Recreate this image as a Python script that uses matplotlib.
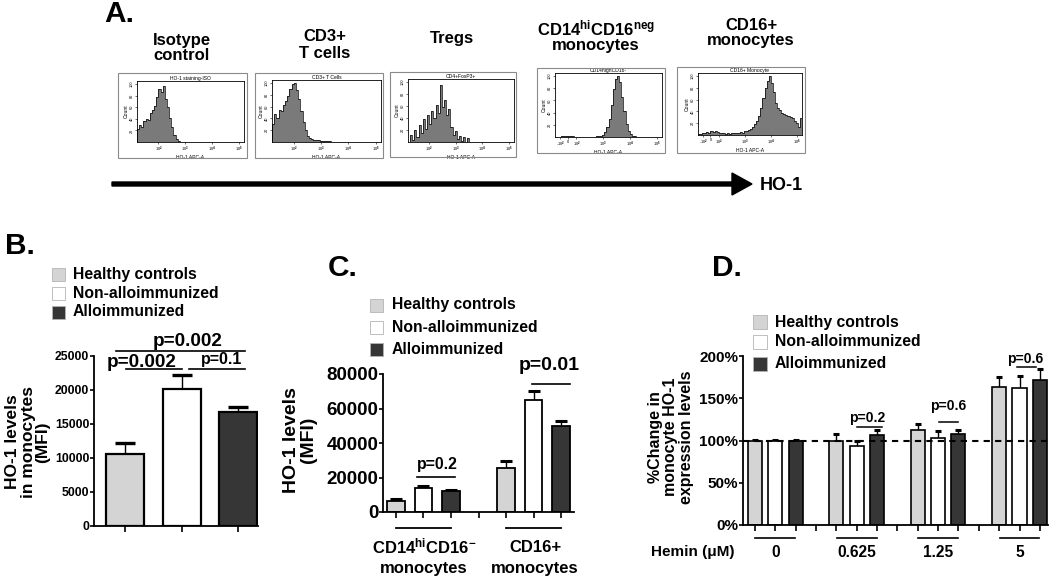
import numpy as np
import matplotlib.pyplot as plt
from matplotlib.patches import Rectangle, FancyArrow

plt.rcParams['font.family'] = ['Liberation Sans', 'DejaVu Sans']
plt.rcParams['font.weight'] = 'bold'
plt.rcParams['axes.labelweight'] = 'bold'
plt.rcParams['mathtext.fontset'] = 'custom'
plt.rcParams['mathtext.rm'] = 'Liberation Sans:bold'
plt.rcParams['mathtext.it'] = 'Liberation Sans:bold'
plt.rcParams['mathtext.bf'] = 'Liberation Sans:bold'

W, H = 1050, 581

# --- data ---
groups = ['Healthy controls', 'Non-alloimmunized', 'Alloimmunized']
colors = ['#d4d4d4', '#ffffff', '#363636']

# panel A: flow histograms (relative counts)
iso = [0.22, 0.30, 0.26, 0.36, 0.40, 0.38, 0.50, 0.55, 0.62, 0.78, 0.92, 0.86, 0.96, 0.74,
       0.60, 0.42, 0.26, 0.12, 0.05, 0.02] + [0] * 30
cd3 = [0.30, 0.48, 0.40, 0.55, 0.52, 0.62, 0.70, 0.78, 0.90, 0.98, 1.00, 0.88, 0.72, 0.52,
       0.34, 0.20, 0.11, 0.07, 0.05, 0.04, 0.03, 0.03, 0.02, 0.02, 0.015, 0.01, 0.01, 0.005] + [0] * 22
treg = [0.0, 0.12, 0.04, 0.20, 0.08, 0.28, 0.15, 0.38, 0.22, 0.45, 0.30, 0.52, 0.40, 0.62,
        0.48, 0.95, 0.58, 0.70, 0.45, 0.55, 0.25, 0.12, 0.18, 0.05, 0.10, 0.02, 0.08, 0.0,
        0.06, 0.0] + [0] * 20
cd14 = [0, 0, 0, 0.01, 0.02, 0.02, 0.015, 0.02, 0.01, 0.005, 0.005, 0.005, 0.005, 0.005,
        0.005, 0.005, 0.005, 0.005, 0.005, 0.01, 0.01, 0.02, 0.04, 0.08, 0.16, 0.30, 0.52,
        0.78, 0.95, 1.00, 0.90, 0.66, 0.42, 0.22, 0.10, 0.05, 0.02, 0.01, 0.005, 0.005] + [0] * 10
cd16 = [0.01, 0.02, 0.03, 0.04, 0.05, 0.04, 0.06, 0.05, 0.06, 0.05,
        0.04, 0.03, 0.03, 0.02, 0.03, 0.02, 0.03, 0.03, 0.04, 0.03,
        0.05, 0.04, 0.06, 0.07, 0.09, 0.11, 0.14, 0.18, 0.24, 0.32,
        0.45, 0.62, 0.80, 0.92, 1.00, 0.88, 0.72, 0.55, 0.45, 0.42,
        0.38, 0.36, 0.34, 0.32, 0.30, 0.28, 0.24, 0.20, 0.14, 0.28]
hist_counts = [iso, cd3, treg, cd14, cd16]
hist_titles = ['Isotype\ncontrol', 'CD3+\nT cells', 'Tregs',
               'CD14$^{hi}$CD16$^{neg}$\nmonocytes', 'CD16+\nmonocytes']
hist_tags = ['HO-1 staining-ISO', 'CD3+ T Cells', 'CD4+FoxP3+', 'CD14highCD16-', 'CD16+ Monocyte']

# panel B: MFI in monocytes
b_mean = [10600, 20100, 16700]
b_err = [1600, 2100, 800]

# panel C: MFI per monocyte subset
c_cells = ['CD14$^{hi}$CD16$^{-}$', 'CD16+']
c_mean = [[6400, 13900, 12200], [25500, 65000, 49900]]
c_err = [[1100, 1100, 600], [4000, 5000, 2900]]

# panel D: % change with hemin
hemin = ['0', '0.625', '1.25', '5']
d_mean = [[100, 100, 100], [99, 93, 107], [112, 103, 108], [163, 162, 172]]
d_err = [[0.5, 0.5, 0.5], [8.5, 7, 5], [8, 8, 4], [12, 14, 13]]

fig = plt.figure(figsize=(W / 100, H / 100), dpi=100)


def px_axes(x0, y0, x1, y1):
    return fig.add_axes([x0 / W, 1 - y1 / H, (x1 - x0) / W, (y1 - y0) / H])


def up_err(ax, x, mean, err, cap, thick):
    x = np.asarray(x)
    top = np.asarray(mean) + np.asarray(err)
    ax.vlines(x, mean, top, color='black', lw=1.0, zorder=1)
    ax.plot(x, top, ls='none', marker='_', ms=cap, mew=thick, color='black', zorder=1)


def style_axes(ax, lab_size):
    for s in ['top', 'right']:
        ax.spines[s].set_visible(False)
    for s in ['left', 'bottom']:
        ax.spines[s].set_linewidth(1.3)
    ax.tick_params(axis='y', length=3, width=1.2, pad=0.5, labelsize=lab_size)
    ax.tick_params(axis='x', length=4, width=1.2, labelbottom=False)


# --- panel A ---
frames = [(118, 73, 247, 158), (255, 73, 383, 158), (390, 72, 516, 157),
          (537, 68, 665, 153), (677, 67, 805, 153)]
inner = [(137, 81, 244, 142), (272, 80, 381, 142), (408, 79, 514, 142),
         (555, 73, 662, 137), (698, 73, 802, 135)]
for k, counts in enumerate(hist_counts):
    ax = px_axes(*inner[k])
    edges = np.linspace(0, 1, len(counts) + 1)
    ax.stairs(counts, edges, fill=True, color='#7a7a7a')
    ax.stairs(counts, edges, color='black', lw=0.5)
    ax.set_xlim(0, 1)
    ax.set_ylim(0, 1.05)
    for s in ax.spines.values():
        s.set_linewidth(0.6)
    if k < 3:
        ax.set_xticks([0.2, 0.45, 0.7, 0.95])
        ax.set_xticklabels(['10$^2$', '10$^3$', '10$^4$', '10$^5$'])
    else:
        ax.set_xticks([0.05, 0.12, 0.2, 0.45, 0.7, 0.95])
        ax.set_xticklabels(['-10$^2$', '0', '10$^2$', '10$^3$', '10$^4$', '10$^5$'])
    ax.set_yticks([0.2, 0.4, 0.6, 0.8, 1.0])
    ax.set_yticklabels(['20', '40', '60', '80', '100'], rotation=90, va='center')
    ax.tick_params(labelsize=2.8, length=1.5, width=0.4, pad=0.8)
    for t in ax.get_xticklabels() + ax.get_yticklabels():
        t.set_fontweight('normal')
    ax.set_xlabel('HO-1 APC-A', fontsize=3.6, fontweight='normal', labelpad=0.5)
    ax.set_ylabel('Count', fontsize=3.6, fontweight='normal', labelpad=0.5)
    ax.set_title(hist_tags[k], fontsize=3.6, fontweight='normal', pad=0.5)

# --- panel B ---
axB = px_axes(94, 356, 258, 526)
xb = np.arange(3)
axB.bar(xb, b_mean, width=0.67, color=colors, edgecolor='black', linewidth=1.6, zorder=2)
up_err(axB, xb, b_mean, b_err, 15, 2.4)
axB.set_xlim(-0.55, 2.35)
axB.set_ylim(0, 25000)
axB.set_yticks(range(0, 25001, 5000))
axB.set_xticks(xb)
style_axes(axB, 8.8)
axB.plot([-0.16, 2.12], [25735, 25735], color='black', lw=1.2, clip_on=False)
axB.text(1.1, 25950, 'p=0.002', fontsize=13.6, ha='center', va='bottom')
axB.plot([0.02, 1.0], [23090, 23090], color='black', lw=1.2, clip_on=False)
axB.plot([1.13, 2.12], [23090, 23090], color='black', lw=1.2, clip_on=False)
axB.text(0.3, 24100, 'p=0.002', fontsize=13.6, ha='center', va='center')
axB.text(1.7, 24450, 'p=0.1', fontsize=11.5, ha='center', va='center')

# --- panel C ---
axC = px_axes(383, 374, 574, 512)
for g in range(2):
    xc = np.arange(3) + 4 * g
    axC.bar(xc, c_mean[g], width=0.65, color=colors, edgecolor='black', linewidth=1.3, zorder=2)
    up_err(axC, xc, c_mean[g], c_err[g], 8, 2.2)
axC.set_xlim(-0.47, 6.47)
axC.set_ylim(0, 80000)
axC.set_yticks(range(0, 80001, 20000))
axC.set_xticks(range(7))
style_axes(axC, 13.5)
for g in range(2):
    cx = 1 + 4 * g
    axC.plot([cx - 1.0, cx + 1.0], [-9300, -9300], color='black', lw=1.3, clip_on=False)
axC.plot([0.76, 2.15], [20300, 20300], color='black', lw=1.2, clip_on=False)
axC.text(1.49, 27300, 'p=0.2', fontsize=11.4, ha='center', va='center')
axC.plot([4.95, 6.33], [74200, 74200], color='black', lw=1.2, clip_on=False)
axC.text(5.58, 85200, 'p=0.01', fontsize=14, ha='center', va='center')

# --- panel D ---
axD = px_axes(743, 356, 1048, 525)
for g in range(4):
    xd = np.arange(3) + 4 * g
    axD.bar(xd, d_mean[g], width=0.69, color=colors, edgecolor='black', linewidth=1.2, zorder=2)
    up_err(axD, xd, d_mean[g], d_err[g], 5, 2.2)
    cx = 1 + 4 * g
    axD.plot([cx - 0.98, cx + 0.98], [-15.4, -15.4], color='black', lw=1.2, clip_on=False)
    axD.text(cx, -33, hemin[g], fontsize=11.2, ha='center', va='center')
axD.axhline(100, color='black', lw=1.5, ls=(0, (3, 2.5)), zorder=3)
axD.set_xlim(-0.59, 14.4)
axD.set_ylim(0, 200)
axD.set_yticks(range(0, 201, 50))
axD.set_yticklabels(['%d%%' % v for v in range(0, 201, 50)])
axD.set_xticks(range(15))
style_axes(axD, 11)
axD.plot([5.0, 6.24], [116, 116], color='black', lw=1.1)
axD.text(5.5, 126.6, 'p=0.2', fontsize=10, ha='center', va='center')
axD.plot([9.04, 9.97], [121.9, 121.9], color='black', lw=1.1)
axD.text(9.48, 140.8, 'p=0.6', fontsize=10, ha='center', va='center')
axD.plot([12.87, 13.8], [187, 187], color='black', lw=1.1, clip_on=False)
axD.text(13.26, 196.4, 'p=0.6', fontsize=10, ha='center', va='center', clip_on=False)

# --- overlay in pixel coordinates ---
ov = fig.add_axes([0, 0, 1, 1])
ov.set_xlim(0, W)
ov.set_ylim(H, 0)
ov.axis('off')

for k in range(5):
    x0, y0, x1, y1 = frames[k]
    ov.add_patch(Rectangle((x0, y0), x1 - x0, y1 - y0, fill=False, edgecolor='#8a8a8a', lw=0.8))
title_pos = [(182, 48, 1.0), (325, 45, 1.15), (452, 39, 1.0), (596, 36, 1.0), (751, 33, 1.0)]
for (tx, ty, ls), t in zip(title_pos, hist_titles):
    ov.text(tx, ty, t, fontsize=12, ha='center', va='center', linespacing=ls, multialignment='center')

ov.add_patch(FancyArrow(112, 184, 640, 0, width=4, head_width=22, head_length=20,
                        length_includes_head=True, color='black'))
ov.text(760, 185, 'HO-1', fontsize=13, ha='left', va='center')

for lab, (lx, ly) in zip(['A.', 'B.', 'C.', 'D.'], [(104, 14), (5, 246), (328, 268), (712, 268)]):
    ov.text(lx, ly, lab, fontsize=21.5, ha='left', va='center')


def draw_legend(x_sq, x_txt, ys, size=13):
    for g, c, y in zip(groups, colors, ys):
        ov.add_patch(Rectangle((x_sq, y - size / 2), size, size, facecolor=c,
                               edgecolor='#b4b4b4', lw=0.6))
        ov.text(x_txt, y, g, fontsize=11.3, ha='left', va='center')


draw_legend(52, 73, [274, 293, 312])
draw_legend(370, 392, [305, 327, 349])
draw_legend(753, 775, [322, 342, 364], size=14)

ov.text(28, 442, 'HO-1 levels\nin monocytes\n(MFI)', fontsize=12.5, rotation=90,
        ha='center', va='center', linespacing=1.0, multialignment='center')
ov.text(300, 440, 'HO-1 levels\n(MFI)', fontsize=14, rotation=90,
        ha='center', va='center', linespacing=1.0, multialignment='center')
ov.text(671, 437, '%Change in\nmonocyte HO-1\nexpression levels', fontsize=11.5, rotation=90,
        ha='center', va='center', linespacing=1.05, multialignment='center')

ov.text(424, 546, c_cells[0], fontsize=12, ha='center', va='center')
ov.text(424, 568, 'monocytes', fontsize=12, ha='center', va='center')
ov.text(535, 548, c_cells[1], fontsize=12, ha='center', va='center')
ov.text(535, 568, 'monocytes', fontsize=12, ha='center', va='center')
ov.text(693, 552, 'Hemin (\u03bcM)', fontsize=11, ha='center', va='center')

fig.savefig('out.png', dpi=100)
